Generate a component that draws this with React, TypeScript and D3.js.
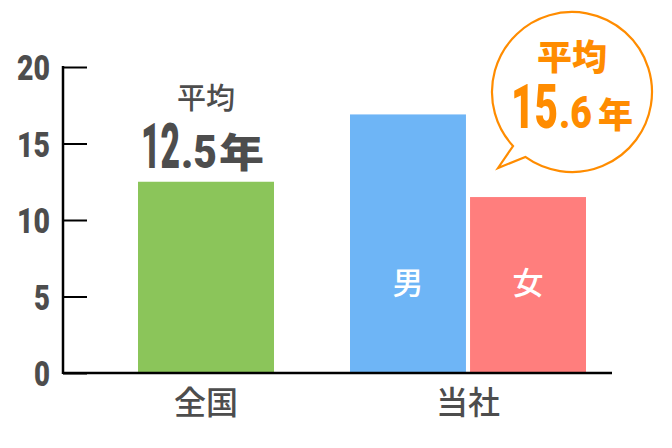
import * as d3 from "d3";
import { useEffect, useRef } from "react";

const categories = ["全国", "当社"];
const subGroups = ["男", "女"];
const nationalValue = 12.5;
const companyValues = [16.9, 11.5];
const yTicks = [0, 5, 10, 15, 20];
const nationalLabel = ["平均", "12", ".5", "年"];
const companyLabel = ["平均", "15", ".6", "年"];

const W = 672;
const H = 448;
const textColor = "#4d4d4d";
const orange = "#ff8c00";
const cjk = "'Noto Sans CJK JP', sans-serif";
const num = "Roboto, sans-serif";

export default function App() {
    const svgRef = useRef<SVGSVGElement>(null);

    useEffect(() => {
        if (svgRef.current) drawChart();
    }, []);

    const drawChart = () => {
        const svg = d3.select(svgRef.current);
        svg.selectAll("*").remove();

        const left = 63;
        const right = 612;
        const top = 67;
        const bottom = 373;

        const x = d3.scaleBand().domain(categories).range([75, 599]).padding(0);
        const xSub = d3.scaleBand().domain(subGroups).range([13, x.bandwidth() - 13]).paddingInner(0.034);
        const y = d3.scaleLinear().domain([0, 20]).range([bottom, top]);

        // bars
        const gw = 136;
        const cx0 = x("全国")! + x.bandwidth() / 2;
        svg.append("rect")
            .attr("x", cx0 - gw / 2)
            .attr("y", y(nationalValue))
            .attr("width", gw)
            .attr("height", bottom - y(nationalValue))
            .attr("fill", "#8bc55a");

        const colors = ["#6eb5f6", "#ff7e7d"];
        subGroups.forEach((s, i) => {
            const bx = x("当社")! + xSub(s)!;
            svg.append("rect")
                .attr("x", bx)
                .attr("y", y(companyValues[i]))
                .attr("width", xSub.bandwidth())
                .attr("height", bottom - y(companyValues[i]))
                .attr("fill", colors[i]);
            svg.append("text")
                .attr("x", bx + xSub.bandwidth() / 2)
                .attr("y", 294)
                .attr("text-anchor", "middle")
                .attr("font-family", cjk)
                .attr("font-weight", 500)
                .attr("font-size", 31)
                .attr("fill", "#fff")
                .text(s);
        });

        // y axis with inner ticks
        const yAxis = svg.append("g")
            .attr("transform", `translate(${left},0)`)
            .call(d3.axisLeft(y).tickValues(yTicks).tickSize(-24).tickPadding(13).tickSizeOuter(0));
        yAxis.select(".domain").remove();
        yAxis.selectAll(".tick line").attr("stroke", "#000").attr("stroke-width", 2);
        yAxis.selectAll(".tick text")
            .attr("font-family", num)
            .attr("font-weight", 900)
            .attr("font-size", 35)
            .attr("fill", textColor)
            .attr("dy", "0.36em")
            .attr("lengthAdjust", "spacingAndGlyphs")
            .attr("textLength", (d: any) => (String(d).length === 1 ? 16 : 33));

        svg.append("line")
            .attr("x1", left).attr("x2", left)
            .attr("y1", top - 1).attr("y2", bottom + 1)
            .attr("stroke", "#000").attr("stroke-width", 2.5);
        svg.append("line")
            .attr("x1", left).attr("x2", right)
            .attr("y1", bottom).attr("y2", bottom)
            .attr("stroke", "#000").attr("stroke-width", 2.5);

        // x labels
        categories.forEach((c) => {
            svg.append("text")
                .attr("x", x(c)! + x.bandwidth() / 2)
                .attr("y", 414)
                .attr("text-anchor", "middle")
                .attr("font-family", cjk)
                .attr("font-weight", 500)
                .attr("font-size", 32)
                .attr("fill", textColor)
                .text(c);
        });

        // condensed label pieces: measured, then squeezed to the wanted width
        const piece = (t: string, px: number, py: number, size: number, len: number, fill: string, family: string, weight: number) => {
            const el = svg.append("text")
                .attr("font-family", family)
                .attr("font-weight", weight)
                .attr("font-size", size)
                .attr("fill", fill)
                .text(t);
            const w = (el.node() as SVGTextElement).getComputedTextLength() || len;
            el.attr("transform", `translate(${px},${py}) scale(${len / w},1)`);
            return el;
        };

        const ty = y(nationalValue) - 14;
        svg.append("text")
            .attr("x", cx0).attr("y", ty - 59)
            .attr("text-anchor", "middle")
            .attr("font-family", cjk).attr("font-weight", 500)
            .attr("font-size", 29).attr("fill", textColor)
            .text(nationalLabel[0]);
        piece(nationalLabel[1], cx0 - 65, ty, 63, 39, textColor, num, 900);
        piece(nationalLabel[2], cx0 - 25, ty, 46, 36, textColor, num, 900);
        piece(nationalLabel[3], cx0 + 13, ty - 1, 40, 45, textColor, cjk, 900);

        // speech bubble
        const bcx = x("当社")! + x.bandwidth() / 2 + 104;
        const bcy = 92;
        const r = 80;
        const a1 = (125.7 * Math.PI) / 180;
        const a2 = (137.5 * Math.PI) / 180;
        const p = d3.path();
        p.moveTo(bcx + r * Math.cos(a1), bcy + r * Math.sin(a1));
        p.arc(bcx, bcy, r, a1, a2 - 2 * Math.PI, true);
        p.lineTo(bcx - 74, bcy + 76);
        p.closePath();
        svg.append("path")
            .attr("d", p.toString())
            .attr("fill", "#fff")
            .attr("stroke", orange)
            .attr("stroke-width", 2.2)
            .attr("stroke-linejoin", "miter");

        svg.append("text")
            .attr("x", bcx).attr("y", 70)
            .attr("text-anchor", "middle")
            .attr("font-family", cjk).attr("font-weight", 900)
            .attr("font-size", 35).attr("fill", orange)
            .text(companyLabel[0]);
        piece(companyLabel[1], bcx - 61, 128, 61, 47, orange, num, 900);
        piece(companyLabel[2], bcx - 13, 128, 44, 33, orange, num, 900);
        piece(companyLabel[3], bcx + 26, 128, 35, 35, orange, cjk, 900);
    };

    return (
        <svg
            ref={svgRef}
            width={W}
            height={H}
            style={{ position: "absolute", left: 0, top: 0, background: "#fff" }}
        />
    );
}
